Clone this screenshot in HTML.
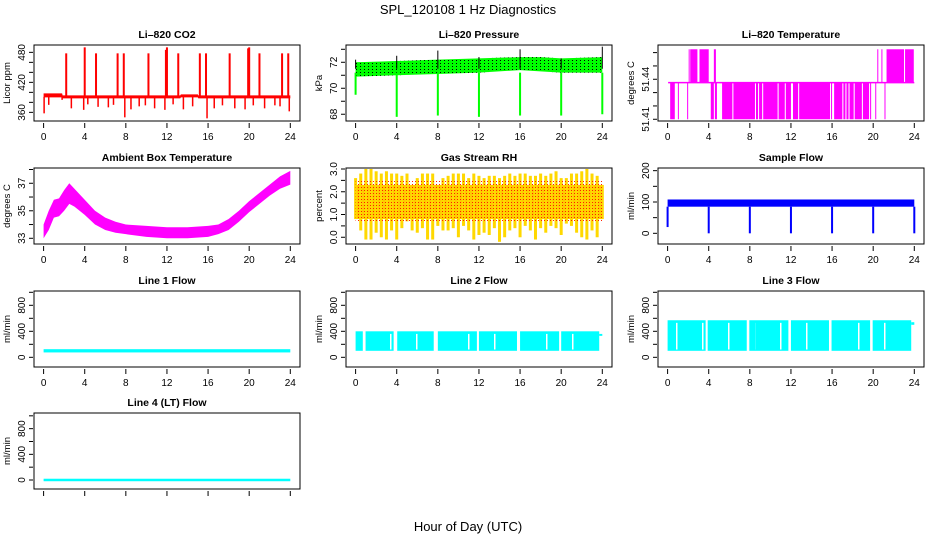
<!DOCTYPE html>
<html><head><meta charset="utf-8"><title>SPL_120108 1 Hz Diagnostics</title>
<style>
html,body{margin:0;padding:0;background:#fff;}
svg{display:block;font-family:"Liberation Sans",Helvetica,Arial,sans-serif;}
</style></head>
<body>
<svg id="chart" width="936" height="540" viewBox="0 0 936 540" xmlns="http://www.w3.org/2000/svg">
<defs>
<pattern id="blackdots" width="4" height="3" patternUnits="userSpaceOnUse"><rect x="0" y="0" width="1" height="1" fill="#000"/></pattern>
<pattern id="reddots" width="3" height="3" patternUnits="userSpaceOnUse"><rect x="1" y="1" width="1" height="1" fill="#ff2000"/></pattern>
<pattern id="whitestripes" width="26" height="4" patternUnits="userSpaceOnUse"><rect x="0" y="0" width="1.5" height="4" fill="#fff"/></pattern>
</defs>
<text x="468" y="14" font-size="13" text-anchor="middle">SPL_120108  1 Hz Diagnostics</text>
<text x="468" y="531" font-size="13" text-anchor="middle">Hour of Day (UTC)</text>
</svg>
<script>
// ---------- data ----------
const xTicks = [0,4,8,12,16,20,24];

// CO2
const co2Band = [[0,390,398],[1.8,390,398],[1.85,388,394],[13.3,388,394],[13.35,390,396],[15.0,390,396],[15.05,388,394],[24,388,394]];
const co2Up = [[2.2,478],[4.0,490],[5.1,478],[7.2,478],[7.8,478],[10.2,478],[11.9,485],[12.0,490],[13.1,478],[15.2,478],[15.8,478],[18.1,478],[19.9,488],[20.0,490],[21.0,478],[23.2,478],[23.8,478]];
const co2Down = [[0.05,358],[0.5,375],[1.8,385],[2.7,368],[3.9,365],[4.3,376],[5.3,371],[6.3,370],[6.8,375],[7.9,350],[8.5,366],[9.3,372],[9.9,374],[10.8,368],[11.8,365],[12.6,376],[13.6,366],[14.5,372],[15.9,348],[16.6,368],[17.4,374],[18.6,368],[19.6,366],[20.4,374],[21.5,368],[22.5,374],[23.0,372],[23.9,362]];

// Pressure
const presBand = [[0,70.9,72.0],[4,71.0,72.1],[8,71.1,72.2],[12,71.2,72.3],[16,71.4,72.4],[18,71.3,72.4],[20,71.2,72.3],[24,71.2,72.4]];
const presDip = [[0,69.5],[4,67.8],[8,67.9],[12,67.8],[16,67.9],[20,67.9],[24,68.0]];
const presUp = [[0,72.2],[4,72.5],[8,72.9],[12,72.4],[16,73.0],[20,72.3],[24,73.2]];

// Li-820 temperature levels and intervals
const tempLevels = [51.41, 51.4375, 51.4625];
const tempLow = [[0.25,0.7],[1.0,1.05],[1.9,2.0],[4.2,4.5],[4.6,4.8],[5.3,6.3],[6.4,8.5],[8.6,8.8],[8.9,9.2],[9.3,10.7],[10.8,11.4],[11.5,12.0],[12.2,12.7],[12.8,15.8],[15.9,16.0],[16.2,17.0],[17.1,17.3],[17.4,17.6],[17.7,18.1],[18.2,18.9],[19.0,19.6],[19.7,19.8],[20.2,20.25],[21.1,21.15]];
const tempHigh = [[2.05,2.1],[2.2,2.9],[3.1,4.0],[4.5,4.7],[20.4,20.45],[20.8,20.85],[21.3,23.0],[23.1,23.95]];

// Ambient box temperature envelope
const ambH  = [0,0.5,1,1.5,2,2.5,3,4,5,6,7,8,10,12,14,16,17,18,19,20,21,22,23,24];
const ambLo = [33.0,33.6,34.5,34.6,35.0,35.5,35.3,34.7,34.0,33.6,33.4,33.3,33.1,33.0,33.0,33.1,33.3,33.6,34.2,34.9,35.5,36.1,36.6,36.9];
const ambHi = [34.0,35.0,35.8,35.9,36.5,37.0,36.6,35.8,35.0,34.5,34.2,34.0,33.9,33.8,33.8,33.9,34.0,34.4,35.0,35.7,36.3,36.9,37.5,37.9];

// Gas stream RH, every 0.5 h
const rhHi = [2.6,2.8,3.0,3.0,2.9,2.8,2.9,2.8,2.8,2.7,2.8,2.2,2.6,2.8,2.8,2.8,2.2,2.6,2.7,2.8,2.8,2.8,2.6,2.8,2.7,2.6,2.7,2.7,2.6,2.7,2.8,2.7,2.8,2.8,2.7,2.7,2.8,2.7,2.8,2.9,2.6,2.6,2.8,2.8,2.9,3.0,2.8,2.7,2.3];
const rhLo = [0.8,0.3,-0.1,-0.1,0.2,0.0,-0.1,0.3,-0.1,0.4,0.7,0.3,0.2,0.4,-0.1,-0.1,0.5,0.3,0.3,0.4,0.0,0.5,0.3,-0.1,0.1,0.2,0.1,0.4,-0.2,0.0,0.3,0.4,0.0,0.5,0.3,-0.1,0.4,0.2,0.5,0.4,0.1,0.6,0.5,0.2,0.0,-0.1,0.3,0.0,0.8];
const rhCore = [0.8,2.3];

// Sample flow
const sfBand = [85,108];
const sfDip = [[0,20],[4,0],[8,0],[12,0],[16,0],[20,0],[24,0]];

// Line flows
const l1Band = [75,125];
const l2Blocks = [[0,0.7],[0.97,3.7],[4.05,7.6],[8.0,11.8],[12.0,15.7],[16.0,19.8],[20.0,23.7]];
const l2Range = [100,400];
const l2Tail = [23.7,24.0,330,360];
const l3Blocks = [[0,3.7],[3.9,7.7],[7.95,11.75],[12.0,15.7],[15.95,19.7],[19.95,23.7]];
const l3Range = [100,570];
const l3Tail = [23.7,24.0,500,540];
const l4Band = [0,20];

// ---------- layout ----------
const svg = document.getElementById('chart');
const NS = 'http://www.w3.org/2000/svg';
const colX = [0,312,624];
const rowY = [45,168,291,413];
const BOXW = 266, BOXH = 76;

function mk(tag, attrs, parent){
  const el = document.createElementNS(NS, tag);
  for (const k in attrs) el.setAttribute(k, attrs[k]);
  (parent||svg).appendChild(el);
  return el;
}

function makePanel(cfg){
  const g = mk('g', {});
  
  
  const L = colX[cfg.col] + 34, T = rowY[cfg.row];
  const x = h => L + 9.6 + h * (246.7/24);
  const y = v => T + BOXH - (v - cfg.ylim[0]) / (cfg.ylim[1]-cfg.ylim[0]) * BOXH;
  const clip = mk('clipPath', {id: 'clip-'+cfg.name}, g);
  mk('rect', {x:L, y:T, width:BOXW, height:BOXH}, clip);
  const plot = mk('g', {'clip-path':'url(#clip-'+cfg.name+')'}, g);
  
  
  const t = mk('text', {x: L+BOXW/2, y: T-7, 'font-size': 10.5, 'font-weight':'bold', 'text-anchor':'middle'}, g);
  t.textContent = cfg.title;
  
  
  const yl = mk('text', {x:0, y:0, 'font-size': 9.5, 'text-anchor':'middle', transform:`translate(${L-24},${T+BOXH/2}) rotate(-90)`}, g);
  yl.textContent = cfg.ylab;
  
  
  cfg.yticks.forEach(v => {
    const tk = mk('line', {x1:L-5, x2:L-1, y1:y(v), y2:y(v), stroke:'#000', 'stroke-width':1}, g);
    
    
  });
  cfg.ylabels.forEach(v => {
    const lb = mk('text', {x:0, y:0, 'font-size': 10, 'text-anchor':'middle', transform:`translate(${L-9},${y(v)}) rotate(-90)`}, g);
    lb.textContent = cfg.fmt ? cfg.fmt(v) : String(v);
    
    
  });
  xTicks.forEach(h => {
    const tk = mk('line', {x1:x(h), x2:x(h), y1:T+BOXH+2, y2:T+BOXH+7, stroke:'#000', 'stroke-width':1}, g);
    
    
    if (cfg.xlabels) {
      const lb = mk('text', {x:x(h), y:T+BOXH+19, 'font-size':10, 'text-anchor':'middle'}, g);
      lb.textContent = String(h);
      
      
    }
  });
  return {g, plot, x, y, L, T, finish(){
    const box = mk('rect', {x:L, y:T, width:BOXW, height:BOXH, fill:'none', stroke:'#000', 'stroke-width':1}, g);
    
    
  }};
}

function poly(plot, xs, los, his, fill, name){
  let pts = [];
  for (let i=0;i<xs.length;i++) pts.push(xs[i][0]+','+his[i]);
  for (let i=xs.length-1;i>=0;i--) pts.push(xs[i][0]+','+los[i]);
  const p = mk('polygon', {points: pts.join(' '), fill: fill}, plot);
  
  
  return p;
}

// ---------- CO2 ----------
(function(){
  const P = makePanel({name:'co2-panel', col:0, row:0, title:'Li\u2013820 CO2', ylab:'Licor ppm', ylim:[342.7,494.7], yticks:[360,380,400,420,440,460,480], ylabels:[360,420,480], xlabels:true});
  const xs = co2Band.map(d=>[P.x(d[0])]);
  poly(P.plot, xs, co2Band.map(d=>P.y(d[1])), co2Band.map(d=>P.y(d[2])), '#ff0000', 'co2-baseline-band');
  co2Up.forEach(d => {
    const l = mk('rect', {x:P.x(d[0])-1, y:P.y(d[1]), width:2, height:P.y(393)-P.y(d[1]), fill:'#ff0000'}, P.plot);
    
    
  });
  co2Down.forEach(d => {
    const l = mk('rect', {x:P.x(d[0])-0.75, y:P.y(391), width:1.5, height:P.y(d[1])-P.y(391), fill:'#ff0000'}, P.plot);
    
    
  });
  P.finish();
})();

// ---------- Pressure ----------
(function(){
  const P = makePanel({name:'pressure-panel', col:1, row:0, title:'Li\u2013820 Pressure', ylab:'kPa', ylim:[67.48,73.33], yticks:[68,69,70,71,72,73], ylabels:[68,70,72], xlabels:true});
  const xs = presBand.map(d=>[P.x(d[0])]);
  poly(P.plot, xs, presBand.map(d=>P.y(d[1])), presBand.map(d=>P.y(d[2])), '#00ff00', 'pressure-band');
  poly(P.plot, xs, presBand.map(d=>P.y(d[1])), presBand.map(d=>P.y(d[2])), 'url(#blackdots)', 'pressure-band-points');
  presDip.forEach(d => {
    const l = mk('rect', {x:P.x(d[0])-1, y:P.y(71.2), width:2, height:P.y(d[1])-P.y(71.2), fill:'#00ff00'}, P.plot);
    
    
  });
  presUp.forEach(d => {
    const l = mk('rect', {x:P.x(d[0])-0.5, y:P.y(d[1]), width:1, height:P.y(71.5)-P.y(d[1]), fill:'#000'}, P.plot);
    
    
  });
  P.finish();
})();

// ---------- Li-820 Temperature ----------
(function(){
  const P = makePanel({name:'li820-temperature-panel', col:2, row:0, title:'Li\u2013820 Temperature', ylab:'degrees C', ylim:[51.4087,51.4657], yticks:[51.41,51.42,51.43,51.44,51.45,51.46], ylabels:[51.41,51.44], fmt:v=>v.toFixed(2), xlabels:true});
  const mid = P.y(tempLevels[1]);
  const m = mk('line', {x1:P.x(0.05), x2:P.x(24), y1:mid, y2:mid, stroke:'#ff00ff', 'stroke-width':1.5}, P.plot);
  
  
  tempLow.forEach(d => {
    const r = mk('rect', {x:P.x(d[0]), y:mid, width:Math.max(1,P.x(d[1])-P.x(d[0])), height:P.y(tempLevels[0])-mid, fill:'#ff00ff'}, P.plot);
    
    
  });
  tempHigh.forEach(d => {
    const r = mk('rect', {x:P.x(d[0]), y:P.y(tempLevels[2]), width:Math.max(1,P.x(d[1])-P.x(d[0])), height:mid-P.y(tempLevels[2]), fill:'#ff00ff'}, P.plot);
    
    
  });
  P.finish();
})();

// ---------- Ambient ----------
(function(){
  const P = makePanel({name:'ambient-temperature-panel', col:0, row:1, title:'Ambient Box Temperature', ylab:'degrees C', ylim:[32.585,38.11], yticks:[33,34,35,36,37,38], ylabels:[33,35,37], xlabels:true});
  poly(P.plot, ambH.map(h=>[P.x(h)]), ambLo.map(v=>P.y(v)), ambHi.map(v=>P.y(v)), '#ff00ff', 'ambient-temperature-band');
  P.finish();
})();

// ---------- RH ----------
(function(){
  const P = makePanel({name:'rh-panel', col:1, row:1, title:'Gas Stream RH', ylab:'percent', ylim:[-0.296,3.044], yticks:[0,0.5,1,1.5,2,2.5,3], ylabels:[0,1,2,3], fmt:v=>v.toFixed(1), xlabels:true});
  const core = mk('rect', {x:P.x(0), y:P.y(rhCore[1]), width:P.x(24)-P.x(0), height:P.y(rhCore[0])-P.y(rhCore[1]), fill:'#ffc800'}, P.plot);
  
  
  rhHi.forEach((v,i) => {
    const h = i*0.5;
    const r = mk('rect', {x:P.x(h)-1.5, y:P.y(v), width:3, height:P.y(rhLo[i])-P.y(v), fill:'#ffd800'}, P.plot);
    
    
  });
  const dots = mk('rect', {x:P.x(0), y:P.y(rhCore[1]+0.2), width:P.x(24)-P.x(0), height:P.y(rhCore[0]-0.1)-P.y(rhCore[1]+0.2), fill:'url(#reddots)'}, P.plot);
  
  
  P.finish();
})();

// ---------- Sample flow ----------
(function(){
  const P = makePanel({name:'sample-flow-panel', col:2, row:1, title:'Sample Flow', ylab:'ml/min', ylim:[-34.1,208.5], yticks:[0,50,100,150,200], ylabels:[0,100,200], xlabels:true});
  const b = mk('rect', {x:P.x(0), y:P.y(sfBand[1]), width:P.x(24)-P.x(0), height:P.y(sfBand[0])-P.y(sfBand[1]), fill:'#0000ff'}, P.plot);
  
  
  sfDip.forEach(d => {
    const r = mk('rect', {x:P.x(d[0])-1, y:P.y(sfBand[0]), width:2, height:P.y(d[1])-P.y(sfBand[0]), fill:'#0000ff'}, P.plot);
    
    
  });
  P.finish();
})();

// ---------- Line flows ----------
const flowTicks = [0,200,400,600,800,1000];
(function(){
  const P = makePanel({name:'line1-flow-panel', col:0, row:2, title:'Line 1 Flow', ylab:'ml/min', ylim:[-149,1020], yticks:flowTicks, ylabels:[0,400,800], xlabels:true});
  const b = mk('rect', {x:P.x(0), y:P.y(l1Band[1]), width:P.x(24)-P.x(0), height:P.y(l1Band[0])-P.y(l1Band[1]), fill:'#00ffff'}, P.plot);
  
  
  P.finish();
})();
function blocksPanel(name, col, title, blocks, range, tail){
  const P = makePanel({name:name, col:col, row:2, title:title, ylab:'ml/min', ylim:[-149,1020], yticks:flowTicks, ylabels:[0,400,800], xlabels:true});
  blocks.forEach(d => {
    const r = mk('rect', {x:P.x(d[0]), y:P.y(range[1]), width:P.x(d[1])-P.x(d[0]), height:P.y(range[0])-P.y(range[1]), fill:'#00ffff'}, P.plot);
    
    
    const s = mk('rect', {x:P.x(d[0])+6, y:P.y(range[1]-40), width:Math.max(0,P.x(d[1])-P.x(d[0])-8), height:P.y(range[0]+20)-P.y(range[1]-40), fill:'url(#whitestripes)'}, P.plot);
    
    
  });
  const t = mk('rect', {x:P.x(tail[0]), y:P.y(tail[3]), width:P.x(tail[1])-P.x(tail[0]), height:P.y(tail[2])-P.y(tail[3]), fill:'#00ffff'}, P.plot);
  
  
  P.finish();
}
blocksPanel('line2-flow-panel', 1, 'Line 2 Flow', l2Blocks, l2Range, l2Tail);
blocksPanel('line3-flow-panel', 2, 'Line 3 Flow', l3Blocks, l3Range, l3Tail);
(function(){
  const P = makePanel({name:'line4-flow-panel', col:0, row:3, title:'Line 4 (LT) Flow', ylab:'ml/min', ylim:[-140,1044], yticks:flowTicks, ylabels:[0,400,800], xlabels:false});
  const b = mk('rect', {x:P.x(0), y:P.y(l4Band[1]), width:P.x(24)-P.x(0), height:Math.max(2.5,P.y(l4Band[0])-P.y(l4Band[1])), fill:'#00ffff'}, P.plot);
  
  
  P.finish();
})();
</script>
</body></html>
